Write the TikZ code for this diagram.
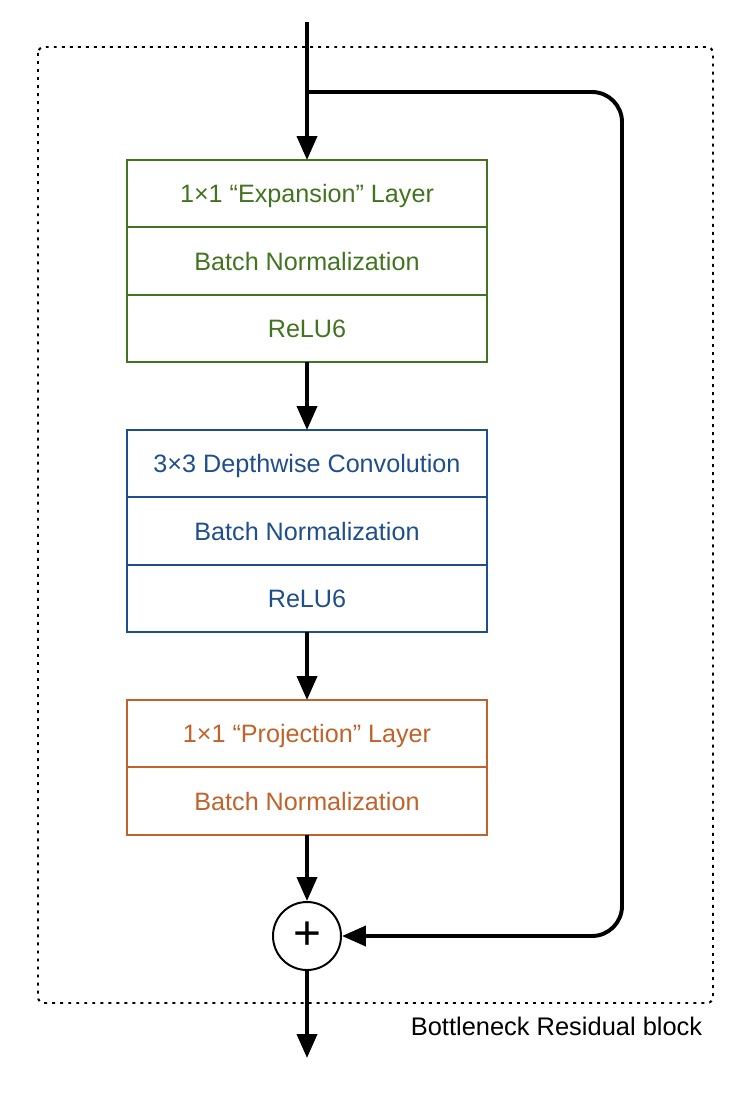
\documentclass[tikz,border=0pt]{standalone}
\usepackage{fontspec}
\setmainfont{Liberation Sans}
\usetikzlibrary{positioning,arrows.meta}
\definecolor{expgreen}{HTML}{42741F}
\definecolor{dwblue}{HTML}{1F4E8C}
\definecolor{projorange}{HTML}{C0622A}
\begin{document}
\begin{tikzpicture}[
    layer/.style={rectangle,draw=#1,text=#1,line width=1.4pt,minimum width=9cm,minimum height=1.683cm,inner sep=0pt,outer sep=0pt,text height=13pt,text depth=0pt},
    flow/.style={line width=2.8pt,-{Triangle[length=0.6cm,width=0.5cm]}},
    node distance=0pt,
    font=\fontsize{17.9}{21}\selectfont]
    \useasboundingbox (0,0) rectangle (18.45,-27.4);
    % block frame
    \draw[line width=1.4pt,dash pattern=on 2.1pt off 3.6pt,rounded corners=0.15cm] (0.95,-1.175) rectangle (17.825,-25.075);
    \node (caption) at (17.68,-25.875) [anchor=base east,font=\fontsize{18.1}{21}\selectfont] {Bottleneck Residual block};
    % expansion
    \node (exp) at (7.675,-4.842) [layer=expgreen] {1×1 “Expansion” Layer};
    \node (bn1) [layer=expgreen,below=of exp] {Batch Normalization};
    \node (relu1) [layer=expgreen,below=of bn1] {ReLU6};
    % depthwise
    \node (dw) at (7.675,-11.592) [layer=dwblue] {3×3 Depthwise Convolution};
    \node (bn2) [layer=dwblue,below=of dw] {Batch Normalization};
    \node (relu2) [layer=dwblue,below=of bn2] {ReLU6};
    % projection
    \node (proj) at (7.675,-18.342) [layer=projorange] {1×1 “Projection” Layer};
    \node (bn3) [layer=projorange,below=of proj] {Batch Normalization};
    % sum
    \node (sum) at (7.675,-23.4) [circle,draw,line width=1.4pt,minimum size=1.7cm,inner sep=0pt] {\fontsize{34}{34}\selectfont +};
    \coordinate (in) at (7.675,-0.55);
    \coordinate (split) at (7.675,-2.3);
    \coordinate (skip) at (15.55,-23.4);
    \coordinate (out) at (7.675,-26.45);
    \draw[flow] (in) -- (exp);
    \draw[flow] (relu1) -- (dw);
    \draw[flow] (relu2) -- (proj);
    \draw[flow] (bn3) -- (sum);
    \draw[flow] (sum) -- (out);
    \draw[flow,rounded corners=0.75cm] (split) -| (skip) -- (sum);
\end{tikzpicture}
\end{document}
